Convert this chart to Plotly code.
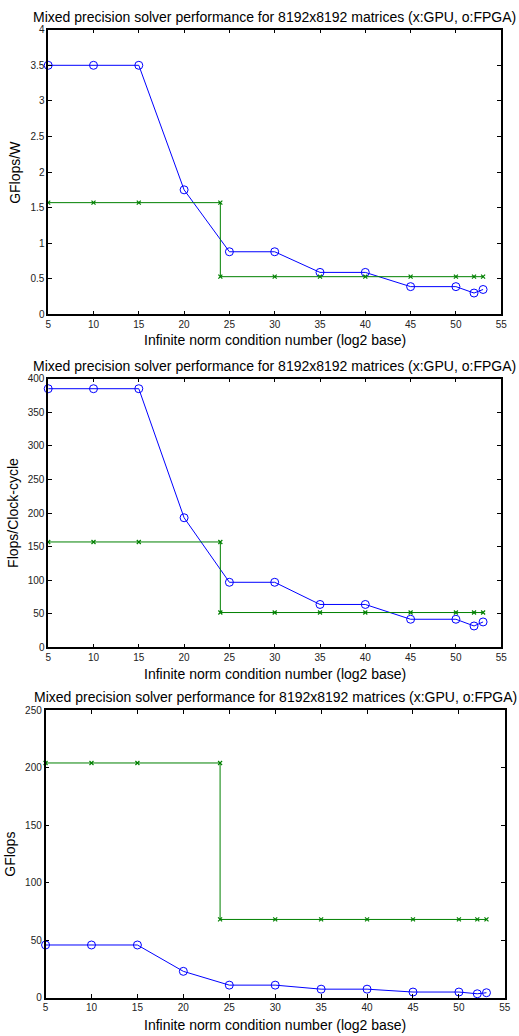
import plotly.graph_objects as go

# ---- data ----
fpga_x = [5, 10, 15, 20, 25, 30, 35, 40, 45, 50, 52, 53]
gpu_x = [5, 10, 15, 24, 24, 30, 35, 40, 45, 50, 52, 53]

fpga_gflops_w = [3.5, 3.5, 3.5, 1.75, 0.88, 0.88, 0.59, 0.59, 0.39, 0.39, 0.30, 0.35]
gpu_gflops_w = [1.57, 1.57, 1.57, 1.57, 0.53, 0.53, 0.53, 0.53, 0.53, 0.53, 0.53, 0.53]

fpga_flops_cc = [385, 385, 385, 193, 97, 97, 64, 64, 42, 42, 32, 38]
gpu_flops_cc = [157, 157, 157, 157, 52, 52, 52, 52, 52, 52, 52, 52]

fpga_gflops = [45.8, 45.8, 45.8, 22.9, 10.9, 10.9, 7.4, 7.4, 4.9, 4.9, 3.4, 4.3]
gpu_gflops = [204, 204, 204, 204, 68, 68, 68, 68, 68, 68, 68, 68]

x_ticks = [5, 10, 15, 20, 25, 30, 35, 40, 45, 50, 55]
title_text = "Mixed precision solver performance for 8192x8192 matrices (x:GPU, o:FPGA)"
xlabel_text = "Infinite norm condition number (log2 base)"
ylabels = ["GFlops/W", "Flops/Clock-cycle", "GFlops"]
yranges = [[0, 4], [0, 400], [0, 250]]
ydticks = [0.5, 50, 50]

W, H = 519, 1036
BLUE = "#0000FF"
GREEN = "#008000"
FONT = "Liberation Sans, Arial, sans-serif"

def py(p):
    return 1 - p / H

def px(p):
    return p / W

# pixel boxes: (left, right, top, bottom)
boxes = [(46, 507, 24, 312), (46, 507, 377, 649), (43.3, 510.7, 712.3, 1003.3)]
title_y = [11, 364, 699]
xlabel_y = [338, 676, 1031]
ylabel_x = [12, 10, 7]

panels = [(fpga_gflops_w, gpu_gflops_w), (fpga_flops_cc, gpu_flops_cc), (fpga_gflops, gpu_gflops)]

fig = go.Figure()
annotations = []
for i, ((fv, gv), (l, r, t, b)) in enumerate(zip(panels, boxes)):
    sfx = "" if i == 0 else str(i + 1)
    xa = "x" + sfx
    ya = "y" + sfx
    fig.add_trace(go.Scatter(x=fpga_x, y=fv, mode="lines+markers", xaxis=xa, yaxis=ya,
                             line=dict(color=BLUE, width=1),
                             marker=dict(symbol="circle-open", size=8, color=BLUE, line=dict(width=1)),
                             showlegend=False, cliponaxis=False))
    fig.add_trace(go.Scatter(x=gpu_x, y=gv, mode="lines+markers", xaxis=xa, yaxis=ya,
                             line=dict(color=GREEN, width=1),
                             marker=dict(symbol="x-thin-open", size=4, color=GREEN, line=dict(width=1.2, color=GREEN)),
                             showlegend=False, cliponaxis=False))
    axis_common = dict(showline=True, linecolor="black", linewidth=1.5, mirror="ticks",
                       ticks="inside", ticklen=4, tickcolor="black", tickwidth=1,
                       showgrid=False, zeroline=False,
                       tickfont=dict(family=FONT, size=10, color="#222222"))
    fig.update_layout(**{
        ("xaxis" + sfx): dict(domain=[px(l), px(r)], anchor=ya, range=[5, 55],
                              tickvals=x_ticks, **axis_common),
        ("yaxis" + sfx): dict(domain=[py(b), py(t)], anchor=xa, range=yranges[i],
                              dtick=ydticks[i], tick0=0, **axis_common),
    })
    cx = (l + r) / 2
    annotations.append(dict(text=title_text, x=px(cx), y=py(title_y[i]), xref="paper", yref="paper",
                            xanchor="center", yanchor="middle", showarrow=False,
                            font=dict(family=FONT, size=14, color="black")))
    annotations.append(dict(text=xlabel_text, x=px(cx), y=py(xlabel_y[i]), xref="paper", yref="paper",
                            xanchor="center", yanchor="middle", showarrow=False,
                            font=dict(family=FONT, size=14, color="black")))
    annotations.append(dict(text=ylabels[i], x=px(ylabel_x[i]), y=py((t + b) / 2), xref="paper", yref="paper",
                            xanchor="center", yanchor="middle", showarrow=False, textangle=-90,
                            font=dict(family=FONT, size=14, color="black")))

fig.update_layout(width=W, height=H, margin=dict(l=0, r=0, t=0, b=0),
                  paper_bgcolor="white", plot_bgcolor="white",
                  annotations=annotations)

fig.write_html("out.html", config=dict(displayModeBar=False),
               post_script="document.body.style.margin='0px';document.body.style.overflow='hidden';")
